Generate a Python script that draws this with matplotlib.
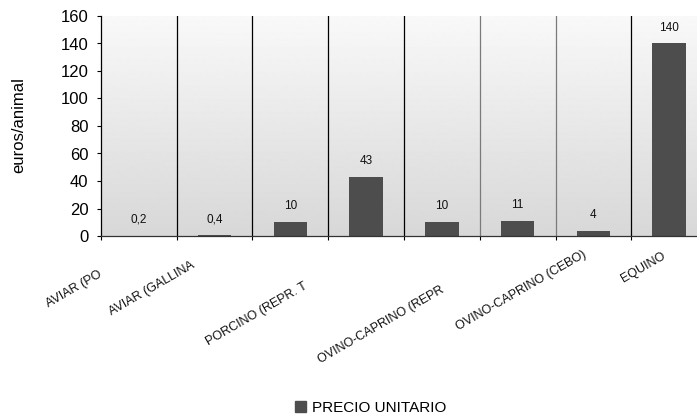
import numpy as np
import matplotlib
matplotlib.use("Agg")
import matplotlib.pyplot as plt
from matplotlib.patches import Patch

plt.rcParams['font.family'] = ['Liberation Sans', 'DejaVu Sans']

# ---- data ----
categories = ["AVIAR (PO", "AVIAR (GALLINA", "PORCINO (REPR. T", "",
              "OVINO-CAPRINO (REPR", "OVINO-CAPRINO (CEBO)", "", "EQUINO"]
values = [0.2, 0.4, 10, 43, 10, 11, 4, 140]
value_labels = ["0,2", "0,4", "10", "43", "10", "11", "4", "140"]
series_name = "PRECIO UNITARIO"
y_ticks = [0, 20, 40, 60, 80, 100, 120, 140, 160]
y_label = "euros/animal"

# ---- layout ----
W, H = 697, 419
fig = plt.figure(figsize=(W / 100, H / 100), dpi=100)
ax_left, ax_right, ax_top, ax_bottom = 101, 707, 16, 236
ax = fig.add_axes([ax_left / W, 1 - ax_bottom / H,
                   (ax_right - ax_left) / W, (ax_bottom - ax_top) / H])

n = len(values)
x = np.arange(n)
ax.set_xlim(-0.5, n - 0.5)
ax.set_ylim(0, 160)

# gradient background
grad = np.linspace(0, 1, 256).reshape(-1, 1)
c_top, c_bot = 0.975, 0.845
img = c_bot + (c_top - c_bot) * grad
ax.imshow(img, extent=(-0.5, n - 0.5, 0, 160), origin='lower', aspect='auto',
          cmap='gray', vmin=0, vmax=1, zorder=0, interpolation='bilinear')

# category separators
sep_colors = ['black', 'black', 'black', 'black', '#7a7a7a', '#7a7a7a', 'black']
for i in range(n - 1):
    ax.axvline(i + 0.5, color=sep_colors[i], lw=0.9, zorder=1)

bars = ax.bar(x, values, width=0.44, color='#4d4d4d', zorder=2)

for xi, v, lab in zip(x, values, value_labels):
    ax.annotate(lab, (xi, v), xytext=(0, 11.5), textcoords='offset points',
                ha='center', va='center', fontsize=8.5, color='#111111')

ax.set_yticks(y_ticks)
ax.set_yticklabels([str(t) for t in y_ticks], fontsize=12)
ax.tick_params(axis='y', direction='out', length=3, width=0.8, pad=6)
ax.set_xticks(np.arange(-0.5, n, 1.0))
ax.set_xticklabels([])
ax.tick_params(axis='x', direction='out', length=3, width=0.8)

for s in ['top', 'right']:
    ax.spines[s].set_visible(False)
ax.spines['left'].set_color('black')
ax.spines['bottom'].set_color('#333333')
ax.spines['left'].set_linewidth(0.9)
ax.spines['bottom'].set_linewidth(0.9)

fig.text(19 / W, 1 - 125 / H, y_label, rotation=90, ha='center', va='center',
         fontsize=12)

# rotated category labels (baseline start positions in pixels)
label_anchor_px = [(49, 307), (112, 315), (209, 345), None,
                   (321, 363), (459, 330), None, (624, 282)]
for lab, pos in zip(categories, label_anchor_px):
    if pos is None or not lab:
        continue
    fig.text(pos[0] / W, 1 - pos[1] / H, lab, rotation=30,
             rotation_mode='anchor', ha='left', va='baseline', fontsize=9,
             color='#111111')

fig.legend(handles=[Patch(facecolor='#4d4d4d', edgecolor='#4d4d4d',
                          label=series_name)],
           loc='center', bbox_to_anchor=(371 / W, 1 - 408 / H), frameon=False,
           fontsize=11, handlelength=0.7, handleheight=0.7, handletextpad=0.4,
           borderpad=0, borderaxespad=0)

fig.savefig("out.png", dpi=100)
